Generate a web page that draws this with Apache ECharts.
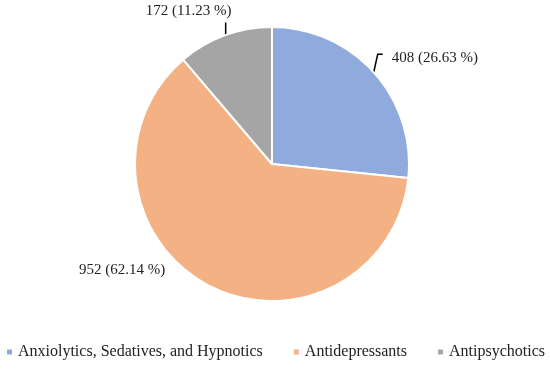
<!DOCTYPE html>
<html><head><meta charset="utf-8">
<script src="https://cdn.jsdelivr.net/npm/echarts@6/dist/echarts.min.js"></script>
<style>html,body{margin:0;padding:0;background:#fff}#c{width:550px;height:370px}</style>
</head><body><div id="c"></div>
<script>
const categories = ["Anxiolytics, Sedatives, and Hypnotics", "Antidepressants", "Antipsychotics"];
const values = [408, 952, 172];
const colors = ["#8FAADC", "#F4B183", "#A5A5A5"];

const chart = echarts.init(document.getElementById('c'), null, {renderer: 'canvas'});
const font = "'Liberation Serif', 'DejaVu Serif', serif";
chart.setOption({
  animation: false,
  color: colors,
  legend: {
    bottom: 10, left: 'center', width: 550, padding: 0,
    icon: 'rect', itemWidth: 7, itemHeight: 7, itemGap: 29,
    textStyle: {fontFamily: font, fontSize: 16, color: '#222'},
    data: categories
  },
  series: [{
    type: 'pie',
    center: [272, 164], radius: 137,
    startAngle: 90, clockwise: true,
    percentPrecision: 2,
    itemStyle: {borderColor: '#fff', borderWidth: 2},
    label: {show: true, position: 'outside', formatter: '{c} ({d} %)',
      fontFamily: font, fontSize: 15, color: '#222'},
    labelLine: {show: true, length: 15, length2: 5, lineStyle: {color: '#000', width: 1.5}},
    labelLayout: function (p) {
      const e = p.labelLinePoints ? p.labelLinePoints[0] : [0, 0];
      if (p.dataIndex === 0) {
        return {x: e[0] + 18, y: e[1] - 14, align: 'left', verticalAlign: 'middle',
          labelLinePoints: [e, [e[0] + 4, e[1] - 18], [e[0] + 9, e[1] - 18]]};
      } else if (p.dataIndex === 2) {
        return {x: e[0] - 36, y: e[1] - 24, align: 'center', verticalAlign: 'middle',
          labelLinePoints: [[e[0] + 1, e[1]], [e[0] + 1, e[1] - 13]]};
      } else {
        return {x: e[0] - 43, y: e[1] - 15, align: 'right', verticalAlign: 'middle',
          labelLinePoints: [e, e]};
      }
    },
    data: categories.map((n, i) => ({name: n, value: values[i],
      labelLine: i === 1 ? {show: false} : undefined}))
  }]
});
</script></body></html>
